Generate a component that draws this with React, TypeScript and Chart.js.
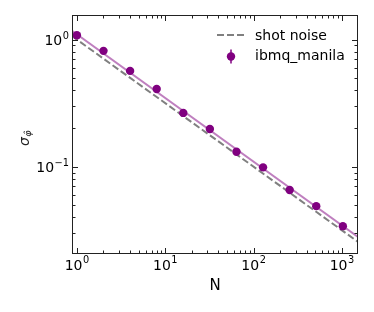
import { useEffect, useRef } from 'react';
import { Chart, registerables } from 'chart.js';

Chart.register(...registerables);

// ---- data ----
const N = [1, 2, 4, 8, 16, 32, 64, 128, 256, 512, 1024];
const sigmaPhi = [1.08, 0.815, 0.567, 0.409, 0.265, 0.198, 0.131, 0.0989, 0.0656, 0.049, 0.0341];
const lineN = [0.88, 1520];
const shotNoise = [1.066, 0.02565];
const fitLine = [1.17, 0.028];

const xRange = [0.88, 1520];
const yRange = [0.0206, 1.56];

const xMajorTicks = [1, 10, 100, 1000];
const xTickLabels = ['0', '1', '2', '3'];
const yMajorTicks = [0.01, 0.1, 1];
const yTickLabels = ['\u22122', '\u22121', '0'];
const legendLabels = ['shot noise', 'ibmq_manila'];
const xTitle = 'N';

const FONT = '"DejaVu Sans", sans-serif';
const PURPLE = '#800080';
const FITCOLOR = '#bf7fbf';
const GRAY = '#808080';

function buildTicks(majors: number[], lo: number, hi: number) {
  const out: { value: number; major: boolean }[] = [];
  majors.forEach((m) => {
    if (m >= lo && m <= hi) out.push({ value: m, major: true });
    for (let k = 2; k <= 9; k++) {
      const v = m * k;
      if (v >= lo && v <= hi) out.push({ value: v, major: false });
    }
  });
  return out.sort((a, b) => a.value - b.value);
}

function drawPow(ctx: CanvasRenderingContext2D, exp: string, x: number, y: number, align: 'center' | 'right') {
  ctx.font = `14px ${FONT}`;
  const wb = ctx.measureText('10').width;
  ctx.font = `9.8px ${FONT}`;
  const we = ctx.measureText(exp).width;
  const total = wb + we + 0.5;
  const x0 = align === 'center' ? x - total / 2 : x - total;
  ctx.textAlign = 'left';
  ctx.textBaseline = 'alphabetic';
  ctx.font = `14px ${FONT}`;
  ctx.fillText('10', x0, y);
  ctx.font = `9.8px ${FONT}`;
  ctx.fillText(exp, x0 + wb + 0.5, y - 6.2);
}

const framePlugin = {
  id: 'frame',
  afterDraw(chart: any) {
    const { ctx, chartArea: a } = chart;
    const xs = chart.scales.x;
    const ys = chart.scales.y;
    ctx.save();
    ctx.strokeStyle = '#222';
    ctx.lineWidth = 1;
    ctx.strokeRect(a.left + 0.5, a.top + 0.5, a.right - a.left - 1, a.bottom - a.top - 1);
    ctx.beginPath();
    xs.ticks.forEach((t: any) => {
      const px = Math.round(xs.getPixelForValue(t.value)) + 0.5;
      const len = t.major ? 6 : 3.5;
      ctx.moveTo(px, a.bottom);
      ctx.lineTo(px, a.bottom - len);
      ctx.moveTo(px, a.top);
      ctx.lineTo(px, a.top + len);
    });
    ys.ticks.forEach((t: any) => {
      const py = Math.round(ys.getPixelForValue(t.value)) + 0.5;
      const len = t.major ? 6 : 3.5;
      ctx.moveTo(a.left, py);
      ctx.lineTo(a.left + len, py);
      ctx.moveTo(a.right, py);
      ctx.lineTo(a.right - len, py);
    });
    ctx.stroke();

    // tick labels
    ctx.fillStyle = '#000';
    xMajorTicks.forEach((v, i) => {
      if (v < xRange[0] || v > xRange[1]) return;
      drawPow(ctx, xTickLabels[i], xs.getPixelForValue(v), 269.5, 'center');
    });
    yMajorTicks.forEach((v, i) => {
      if (v < yRange[0] || v > yRange[1]) return;
      drawPow(ctx, yTickLabels[i], a.left - 3, ys.getPixelForValue(v) + 5.5, 'right');
    });

    // x title
    ctx.font = `15px ${FONT}`;
    ctx.textAlign = 'center';
    ctx.textBaseline = 'alphabetic';
    ctx.fillText(xTitle, (a.left + a.right) / 2, 289.5);

    // y title: sigma with subscript phi-hat
    ctx.save();
    ctx.translate(28.5, 146);
    ctx.rotate(-Math.PI / 2);
    ctx.textAlign = 'left';
    ctx.font = `italic 14px ${FONT}`;
    ctx.fillStyle = '#222';
    ctx.fillText('\u03C3', 0, 0);
    const ws = ctx.measureText('\u03C3').width;
    ctx.font = `italic 9.5px ${FONT}`;
    ctx.fillText('\u03C6\u0302', ws + 0.5, 2.5);
    ctx.restore();

    // legend
    ctx.strokeStyle = GRAY;
    ctx.lineWidth = 2;
    ctx.setLineDash([7, 3]);
    ctx.beginPath();
    ctx.moveTo(217, 35);
    ctx.lineTo(245, 35);
    ctx.stroke();
    ctx.setLineDash([]);
    ctx.strokeStyle = PURPLE;
    ctx.lineWidth = 1.5;
    ctx.beginPath();
    ctx.moveTo(231, 49.5);
    ctx.lineTo(231, 63.5);
    ctx.stroke();
    ctx.fillStyle = PURPLE;
    ctx.beginPath();
    ctx.arc(231, 56.5, 4.2, 0, Math.PI * 2);
    ctx.fill();
    ctx.fillStyle = '#000';
    ctx.font = `14px ${FONT}`;
    ctx.textAlign = 'left';
    ctx.fillText(legendLabels[0], 255, 39.5);
    ctx.fillText(legendLabels[1], 255, 60);
    ctx.restore();
  },
};

export default function App() {
  const ref = useRef<HTMLCanvasElement | null>(null);
  useEffect(() => {
    document.body.style.margin = '0';
    if (!ref.current) return;
    const chart = new Chart(ref.current, {
      type: 'scatter',
      data: {
        datasets: [
          {
            label: legendLabels[1],
            data: N.map((n, i) => ({ x: n, y: sigmaPhi[i] })),
            backgroundColor: PURPLE,
            borderColor: PURPLE,
            pointRadius: 4.2,
            borderWidth: 0,
            order: 0,
          },
          {
            label: 'fit',
            data: lineN.map((n, i) => ({ x: n, y: fitLine[i] })),
            showLine: true,
            borderColor: FITCOLOR,
            borderWidth: 2,
            pointRadius: 0,
            order: 1,
          },
          {
            label: legendLabels[0],
            data: lineN.map((n, i) => ({ x: n, y: shotNoise[i] })),
            showLine: true,
            borderColor: GRAY,
            borderWidth: 2,
            borderDash: [7, 3],
            pointRadius: 0,
            order: 2,
          },
        ],
      },
      options: {
        animation: false,
        responsive: false,
        devicePixelRatio: 1,
        layout: { padding: { top: 15, right: 16, left: 0, bottom: 0 } },
        plugins: { legend: { display: false }, tooltip: { enabled: false } },
        scales: {
          x: {
            type: 'logarithmic',
            min: xRange[0],
            max: xRange[1],
            grid: { display: false },
            border: { display: false },
            ticks: { display: false },
            afterBuildTicks(s: any) {
              s.ticks = buildTicks(xMajorTicks, xRange[0], xRange[1]);
            },
            afterFit(s: any) {
              s.height = 58;
            },
          },
          y: {
            type: 'logarithmic',
            min: yRange[0],
            max: yRange[1],
            grid: { display: false },
            border: { display: false },
            ticks: { display: false },
            afterBuildTicks(s: any) {
              s.ticks = buildTicks(yMajorTicks, yRange[0], yRange[1]);
            },
            afterFit(s: any) {
              s.width = 72;
            },
          },
        },
      },
      plugins: [framePlugin],
    } as any);
    return () => chart.destroy();
  }, []);
  return (
    <div style={{ position: 'absolute', left: 0, top: 0, width: 374, height: 312 }}>
      <canvas ref={ref} width={374} height={312} />
    </div>
  );
}
